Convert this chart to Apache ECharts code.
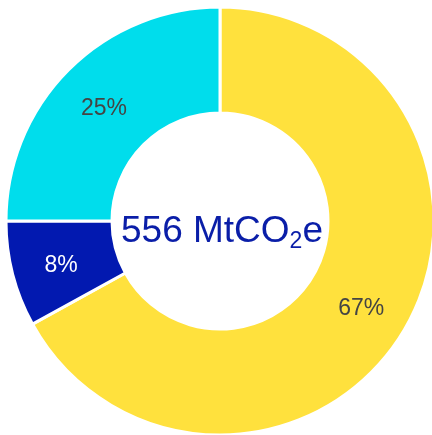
<!DOCTYPE html>
<html lang="en">
<head>
    <meta charset="UTF-8">
    <title>Emissions donut</title>
    <script src="https://cdn.jsdelivr.net/npm/echarts@6/dist/echarts.min.js"></script>
    <style>
        html, body { margin: 0; padding: 0; background: #fff; }
        #chart { width: 432px; height: 435px; }
    </style>
</head>
<body>
    <div id="chart"></div>
<script>
    // shares of the total, clockwise from 12 o'clock
    var categories = ['A', 'B', 'C'];
    var shares = [67, 8, 25];
    var sliceColors = ['#FFE13D', '#0219B0', '#00DDEC'];
    var labelColors = ['#444444', '#ffffff', '#444444'];
    var totalLabel = '556';

    var pieData = categories.map(function (name, i) {
        return {
            name: name,
            value: shares[i],
            itemStyle: { color: sliceColors[i] },
            label: { color: labelColors[i] }
        };
    });

    var chart = echarts.init(document.getElementById('chart'));
    chart.setOption({
        animation: false,
        title: {
            text: '{a|' + totalLabel + ' MtCO}{b|2}{a|e}',
            left: 217,
            top: 205,
            textAlign: 'center',
            textStyle: {
                fontWeight: 'normal',
                rich: {
                    a: { fontFamily: 'Liberation Sans, Arial', fontSize: 37, fontWeight: 'normal', color: '#0A1EA8', lineHeight: 42 },
                    b: { fontFamily: 'Liberation Sans, Arial', fontSize: 23, fontWeight: 'normal', color: '#0A1EA8', padding: [20, 0, 0, 0] }
                }
            }
        },
        series: [{
            type: 'pie',
            center: [220, 221],
            radius: [108, 214],
            startAngle: 90,
            clockwise: true,
            avoidLabelOverlap: false,
            itemStyle: { borderColor: '#fff', borderWidth: 3 },
            label: {
                show: true,
                position: 'inside',
                formatter: '{c}%',
                fontFamily: 'Liberation Sans, Arial',
                fontSize: 23,
                offset: [0, 4]
            },
            labelLine: { show: false },
            data: pieData
        }]
    });
</script>
</body>
</html>
